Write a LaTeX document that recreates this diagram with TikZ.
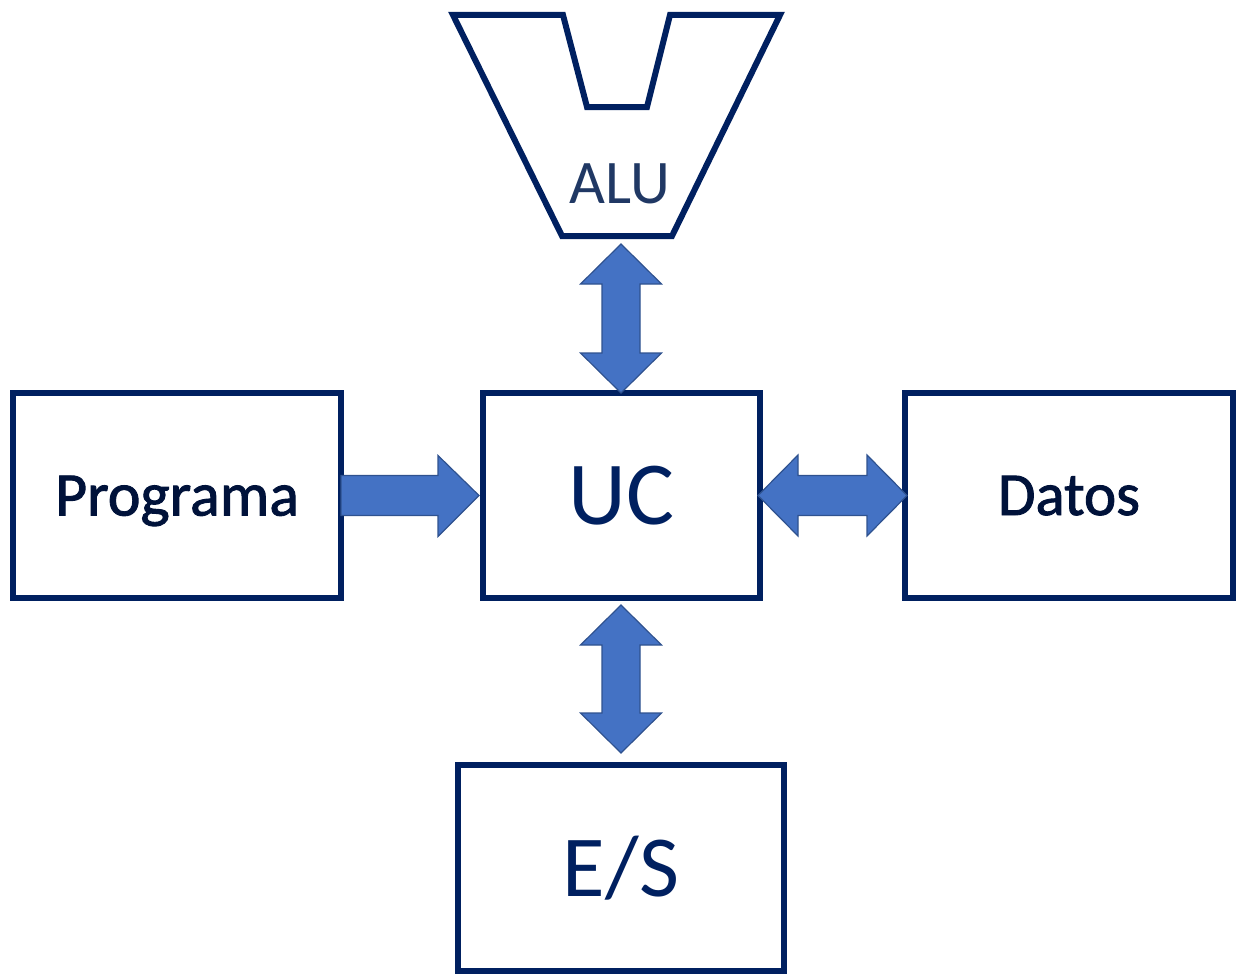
\documentclass[tikz,border=0pt]{standalone}
\usepackage{fontspec}
\setmainfont{Carlito}
\newfontfamily\heavyfont[FakeBold=1.5]{Carlito}
\usetikzlibrary{calc}
\definecolor{navy}{HTML}{002060}
\definecolor{alutext}{HTML}{203864}
\definecolor{arrowfill}{HTML}{4472C4}
\definecolor{arrowline}{HTML}{2F528F}
\definecolor{heavytext}{HTML}{00123A}
\tikzset{
  unitbox/.style={draw=navy, line width=6pt, fill=white, inner sep=0pt, text depth=0pt},
  blockarrow/.style={fill=arrowfill, draw=arrowline, line width=1.2pt, line join=miter},
}
\begin{document}
\begin{tikzpicture}[x=1pt,y=-1pt]
\useasboundingbox (0,0) rectangle (1239,974);
% ALU shape
\draw[draw=navy, line width=6pt, line join=miter]
  (453,15) -- (563,15) -- (587,107) -- (647,107) -- (670,15) -- (780,15)
  -- (672,236) -- (562,236) -- cycle;
\node[anchor=base, inner sep=0pt, text=alutext, font=\fontsize{62}{62}\selectfont] (alu) at (620,203) {ALU};
% boxes
\node[unitbox, minimum width=328pt, minimum height=205pt, text height=40pt,
      text=heavytext, font=\heavyfont\fontsize{62}{62}\selectfont] (prog) at (177,495.5) {Programa};
\node[unitbox, minimum width=277pt, minimum height=205pt, text height=58pt,
      text=navy, font=\fontsize{90}{90}\selectfont] (uc) at (621.5,495.5) {UC};
\node[unitbox, minimum width=328pt, minimum height=205pt, text height=39pt,
      text=heavytext, font=\heavyfont\fontsize{61}{61}\selectfont] (datos) at (1069,495.5) {Datos};
\node[unitbox, minimum width=326pt, minimum height=206pt, text height=56pt,
      text=navy, font=\fontsize{87}{87}\selectfont] (es) at (621,868) {E/S};
% arrow end points
\coordinate (aluBot) at (621,244);
\coordinate (ucTop) at (621,393);
\coordinate (ucBot) at (621,605);
\coordinate (esTop) at (621,753);
\coordinate (progRight) at (341,495.5);
\coordinate (ucLeft) at (479,495.5);
\coordinate (ucRight) at (758,495.5);
\coordinate (datosLeft) at (907,495.5);
% ALU <-> UC
\draw[blockarrow] (aluBot) -- ++(40.5,40) -- ++(-21.5,0) -- ++(0,69) -- ++(21.5,0)
  -- (ucTop) -- ++(-40.5,-40) -- ++(21.5,0) -- ++(0,-69) -- ++(-21.5,0) -- cycle;
% UC <-> E/S
\draw[blockarrow] (ucBot) -- ++(40.5,40) -- ++(-21.5,0) -- ++(0,68) -- ++(21.5,0)
  -- (esTop) -- ++(-40.5,-40) -- ++(21.5,0) -- ++(0,-68) -- ++(-21.5,0) -- cycle;
% Programa -> UC
\draw[blockarrow] (progRight) ++(0,-20) -- ++(97,0) -- ++(0,-20) -- (ucLeft)
  -- ++(-41,41) -- ++(0,-21) -- ++(-97,0) -- cycle;
% UC <-> Datos
\draw[blockarrow] (ucRight) -- ++(40,-40.5) -- ++(0,20.5) -- ++(69,0) -- ++(0,-20.5)
  -- (datosLeft) -- ++(-40,40.5) -- ++(0,-20.5) -- ++(-69,0) -- ++(0,20.5) -- cycle;
\end{tikzpicture}
\end{document}
